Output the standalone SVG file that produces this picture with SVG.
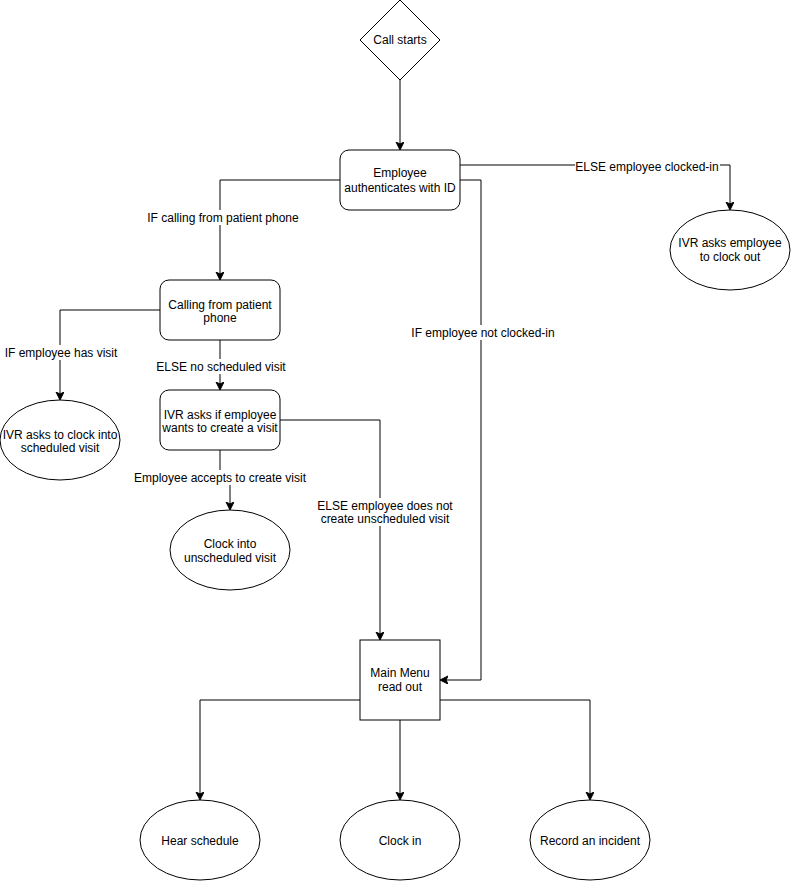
<svg xmlns="http://www.w3.org/2000/svg" width="791" height="881" viewBox="0 0 791 881">
<style>
.n{fill:#fff;stroke:#000;stroke-width:1}
.t{font-family:"Liberation Sans",Arial,sans-serif;font-size:12px;fill:#000;text-anchor:middle}
.e{fill:none;stroke:#000;stroke-width:1;marker-end:url(#a)}
.lb{fill:#fff}
</style>
<defs>
<marker id="a" markerWidth="10" markerHeight="10" refX="7" refY="4" orient="auto" markerUnits="userSpaceOnUse">
<path d="M0,0 L8,4 L0,8 L2,4 Z" fill="#000" stroke="#000" stroke-width="1"/>
</marker>
</defs>
<rect width="791" height="881" fill="#fff"/>
<g id="connectors">
<path class="e" d="M400,80 V149"/>
<path class="e" d="M460,165 H730 V209"/>
<path class="e" d="M460,180 H481 V680 H441"/>
<path class="e" d="M340,180 H220 V279"/>
<path class="e" d="M160,310 H60 V399"/>
<path class="e" d="M220,340 V389"/>
<path class="e" d="M280,420 H380 V639"/>
<path class="e" d="M220,450 V478 H230 V509"/>
<path class="e" d="M360,700 H200 V799"/>
<path class="e" d="M400,720 V799"/>
<path class="e" d="M440,700 H590 V799"/>
</g>
<g id="labels">
<rect class="lb" x="575" y="159" width="145" height="15"/>
<text class="t" x="647" y="171">ELSE employee clocked-in</text>
<rect class="lb" x="147" y="210" width="152" height="15"/>
<text class="t" x="223" y="222">IF calling from patient phone</text>
<rect class="lb" x="410" y="325" width="146" height="15"/>
<text class="t" x="483" y="337">IF employee not clocked-in</text>
<rect class="lb" x="4" y="345" width="114" height="15"/>
<text class="t" x="61" y="357">IF employee has visit</text>
<rect class="lb" x="156" y="359" width="131" height="15"/>
<text class="t" x="221" y="371">ELSE no scheduled visit</text>
<rect class="lb" x="133" y="470" width="174" height="15"/>
<text class="t" x="220" y="482">Employee accepts to create visit</text>
<rect class="lb" x="316" y="498" width="138" height="28"/>
<text class="t" x="385" y="510">ELSE employee does not</text>
<text class="t" x="385" y="523">create unscheduled visit</text>
</g>
<g id="call-starts">
<path class="n" d="M400,0 L440,40 L400,80 L360,40 Z"/>
<text class="t" x="400" y="44">Call starts</text>
</g>
<g id="auth">
<rect class="n" x="340" y="150" width="120" height="60" rx="9"/>
<text class="t" x="400" y="177">Employee</text>
<text class="t" x="400" y="192">authenticates with ID</text>
</g>
<g id="clock-out">
<ellipse class="n" cx="730" cy="250" rx="60" ry="40"/>
<text class="t" x="730" y="247">IVR asks employee</text>
<text class="t" x="730" y="261">to clock out</text>
</g>
<g id="patient-phone">
<rect class="n" x="160" y="280" width="120" height="60" rx="9"/>
<text class="t" x="220" y="309">Calling from patient</text>
<text class="t" x="220" y="322">phone</text>
</g>
<g id="scheduled">
<ellipse class="n" cx="60" cy="440" rx="60" ry="40"/>
<text class="t" x="60" y="439">IVR asks to clock into</text>
<text class="t" x="60" y="452">scheduled visit</text>
</g>
<g id="create-visit">
<rect class="n" x="160" y="390" width="120" height="60" rx="9"/>
<text class="t" x="220" y="419">IVR asks if employee</text>
<text class="t" x="220" y="432">wants to create a visit</text>
</g>
<g id="unscheduled">
<ellipse class="n" cx="230" cy="550" rx="60" ry="40"/>
<text class="t" x="230" y="548">Clock into</text>
<text class="t" x="230" y="562">unscheduled visit</text>
</g>
<g id="main-menu">
<rect class="n" x="360" y="640" width="80" height="80"/>
<text class="t" x="400" y="677">Main Menu</text>
<text class="t" x="400" y="691">read out</text>
</g>
<g id="hear-schedule">
<ellipse class="n" cx="200" cy="840" rx="60" ry="40"/>
<text class="t" x="200" y="845">Hear schedule</text>
</g>
<g id="clock-in">
<ellipse class="n" cx="400" cy="840" rx="60" ry="40"/>
<text class="t" x="400" y="845">Clock in</text>
</g>
<g id="incident">
<ellipse class="n" cx="590" cy="840" rx="60" ry="40"/>
<text class="t" x="590" y="845">Record an incident</text>
</g>
</svg>
